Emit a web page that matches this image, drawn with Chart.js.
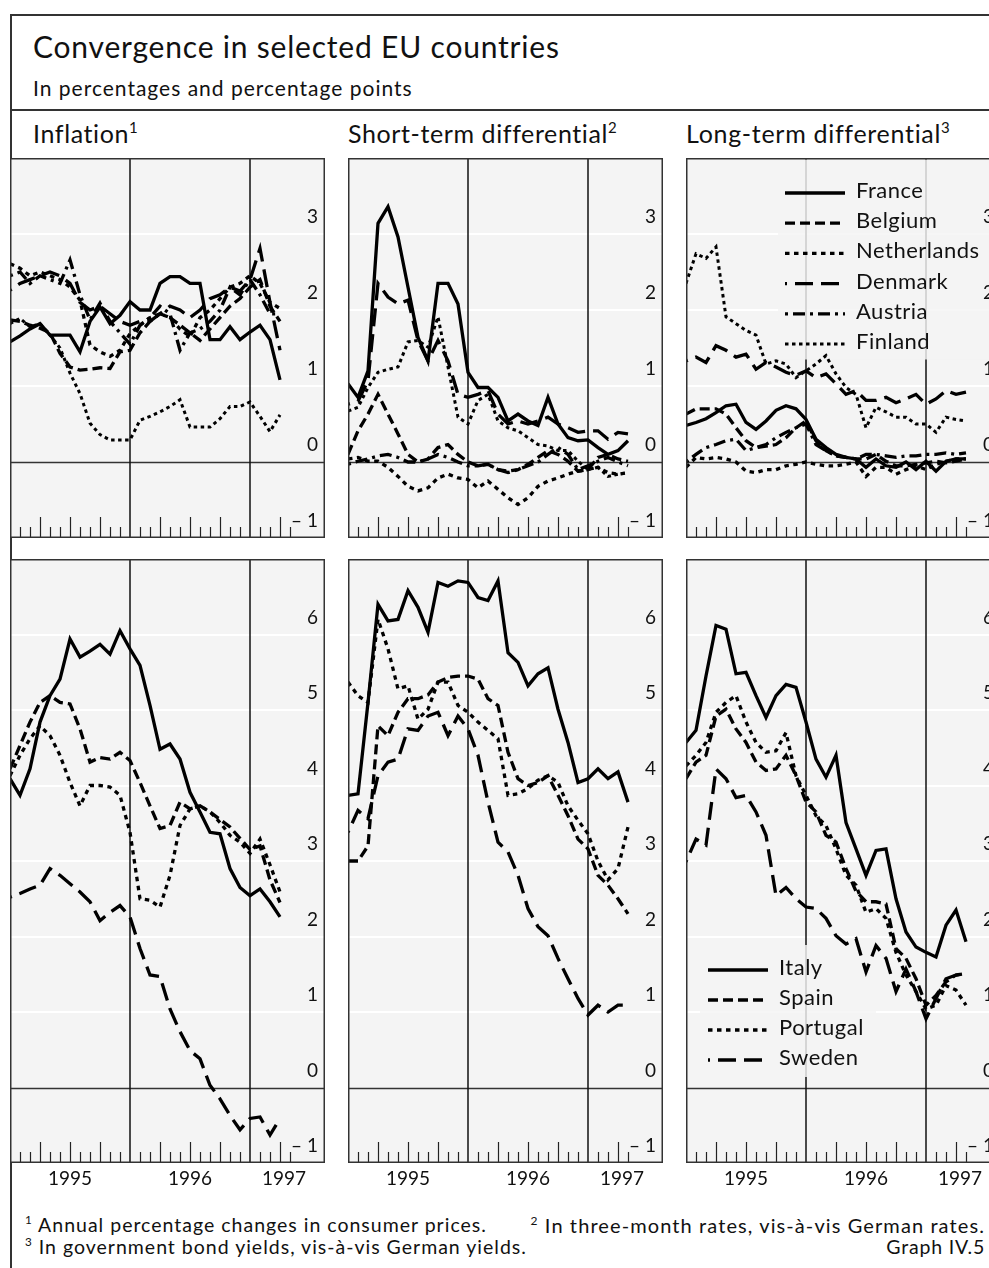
<!DOCTYPE html>
<html><head><meta charset="utf-8">
<script src="https://cdn.jsdelivr.net/npm/chart.js@4/dist/chart.umd.min.js"></script>
<style>
html,body{margin:0;padding:0;overflow:hidden;}
body{width:989px;height:1268px;position:relative;background:#fff;font-family:Lato,"Open Sans",sans-serif;color:#111;}
.t{position:absolute;white-space:nowrap;line-height:1;}
.t sup{font-size:0.6em;vertical-align:0.65em;line-height:0;}
canvas{position:absolute;}
.ln{position:absolute;background:#333;}
</style></head><body>
<div class="ln" style="left:10px;top:14px;width:979px;height:1.5px"></div>
<div class="ln" style="left:10px;top:14px;width:1.5px;height:1254px"></div>
<div class="ln" style="left:10px;top:109px;width:979px;height:1.5px"></div>
<div class="t" style="left:33px;top:31px;font-size:30px;letter-spacing:0.8px">Convergence in selected EU countries</div>
<div class="t" style="left:33px;top:77px;font-size:21px;letter-spacing:1px">In percentages and percentage points</div>
<div class="t" style="left:33px;top:121px;font-size:25px;letter-spacing:0.6px">Inflation<sup>1</sup></div>
<div class="t" style="left:348px;top:121px;font-size:25px;letter-spacing:0.6px">Short-term differential<sup>2</sup></div>
<div class="t" style="left:686px;top:121px;font-size:25px;letter-spacing:0.7px">Long-term differential<sup>3</sup></div>
<div class="t" style="left:25px;top:1215px;font-size:19.5px;letter-spacing:1px"><sup>1</sup> Annual percentage changes in consumer prices.</div>
<div class="t" style="right:4px;top:1215px;font-size:20px;letter-spacing:1.1px"><sup>2</sup> In three-month rates, vis-à-vis German rates.</div>
<div class="t" style="left:25px;top:1237px;font-size:19.5px;letter-spacing:1px"><sup>3</sup> In government bond yields, vis-à-vis German yields.</div>
<div class="t" style="right:4px;top:1237px;font-size:19.5px;letter-spacing:0.8px">Graph IV.5</div>

<canvas id="c1" width="315" height="380" style="left:10px;top:158px"></canvas>
<canvas id="c2" width="315" height="380" style="left:348px;top:158px"></canvas>
<canvas id="c3" width="315" height="380" style="left:686px;top:158px"></canvas>
<canvas id="c4" width="315" height="640" style="left:10px;top:559px"></canvas>
<canvas id="c5" width="315" height="640" style="left:348px;top:559px"></canvas>
<canvas id="c6" width="315" height="640" style="left:686px;top:559px"></canvas>

<script>
// ---- categories (monthly, Jan 1995 – May 1997) ----
const months = ['1995-01','1995-02','1995-03','1995-04','1995-05','1995-06','1995-07','1995-08','1995-09','1995-10','1995-11','1995-12',
  '1996-01','1996-02','1996-03','1996-04','1996-05','1996-06','1996-07','1996-08','1996-09','1996-10','1996-11','1996-12',
  '1997-01','1997-02','1997-03','1997-04','1997-05'];
const yearLabels = ['1995','1996','1997'];
const topTicks = [-1,0,1,2,3];
const bottomTicks = [-1,0,1,2,3,4,5,6];

// ---- Inflation, top group ----
const inflFrance      = [1.58,1.66,1.75,1.82,1.67,1.67,1.67,1.45,1.85,2.04,1.82,1.93,2.11,2.00,2.00,2.35,2.44,2.44,2.35,2.35,1.61,1.61,1.78,1.61,1.71,1.80,1.61,1.08];
const inflBelgium     = [1.87,1.85,1.80,1.76,1.70,1.43,1.25,1.21,1.22,1.24,1.23,1.45,1.47,1.70,1.85,1.95,1.90,1.80,1.70,1.60,1.75,1.90,2.05,2.15,2.30,2.40,2.05,1.85];
const inflNetherlands = [2.61,2.55,2.45,2.50,2.45,2.40,2.30,2.13,1.54,1.45,1.39,1.47,1.69,1.80,1.90,1.95,1.90,1.75,1.65,1.90,2.00,2.15,2.30,2.35,2.45,2.35,2.10,2.02];
const inflDenmark     = [2.26,2.35,2.40,2.45,2.50,2.45,2.35,2.10,2.00,2.05,1.95,1.85,1.80,1.85,1.85,1.95,2.05,2.00,1.90,2.00,2.15,2.20,2.30,2.25,2.40,2.81,2.10,1.47];
const inflAustria     = [2.45,2.50,2.35,2.45,2.40,2.35,2.66,2.20,1.87,2.09,1.85,1.70,1.55,1.80,1.90,2.05,1.95,1.47,1.70,1.75,1.85,2.00,2.30,2.20,2.40,2.20,1.95,1.95];
const inflFinland     = [1.82,1.89,1.78,1.82,1.67,1.50,1.17,0.90,0.51,0.36,0.29,0.29,0.29,0.55,0.60,0.66,0.73,0.82,0.46,0.46,0.46,0.57,0.73,0.73,0.79,0.60,0.40,0.62];
// ---- Short-term differential, top group ----
const stFrance      = [1.03,0.85,1.20,3.14,3.36,2.96,2.30,1.64,1.33,2.35,2.35,2.08,1.18,0.98,0.98,0.85,0.54,0.63,0.54,0.48,0.85,0.50,0.32,0.28,0.29,0.19,0.10,0.15,0.28];
const stBelgium     = [0.10,0.41,0.63,0.89,0.63,0.37,0.10,0.00,0.04,0.19,0.23,0.10,0.00,-0.05,-0.03,-0.10,-0.12,-0.10,-0.03,0.06,0.15,0.10,0.01,-0.12,-0.10,0.06,0.10,0.04,0.01];
const stNetherlands = [0.04,0.06,0.01,0.01,-0.07,-0.19,-0.32,-0.38,-0.34,-0.21,-0.16,-0.21,-0.23,-0.34,-0.25,-0.36,-0.47,-0.56,-0.47,-0.32,-0.25,-0.21,-0.16,-0.12,-0.10,-0.07,-0.14,-0.16,-0.14];
const stDenmark     = [0.76,0.80,1.07,2.35,2.17,2.08,2.13,1.60,1.33,1.60,1.33,0.89,0.85,0.89,0.94,0.63,0.50,0.54,0.50,0.54,0.59,0.50,0.45,0.39,0.41,0.41,0.30,0.39,0.37];
const stAustria     = [-0.03,0.01,0.04,0.08,0.10,0.06,0.00,0.00,0.04,0.10,0.06,0.00,-0.05,-0.05,-0.03,-0.10,-0.14,-0.10,-0.05,0.00,0.10,0.19,0.10,-0.10,-0.05,0.01,0.06,0.00,-0.05];
const stFinland     = [0.67,0.72,0.98,1.18,1.22,1.25,1.58,1.60,1.51,1.91,1.25,0.59,0.50,0.81,0.89,0.54,0.45,0.41,0.32,0.23,0.21,0.15,0.15,0.01,-0.10,-0.07,-0.19,-0.16,-0.14];
// ---- Long-term differential, top group ----
const ltFrance      = [0.48,0.52,0.57,0.65,0.74,0.76,0.52,0.43,0.54,0.68,0.74,0.70,0.56,0.30,0.19,0.10,0.06,0.04,-0.07,0.04,-0.05,-0.07,0.00,-0.10,0.01,-0.12,0.01,0.04,0.04];
const ltBelgium     = [0.63,0.70,0.70,0.70,0.63,0.45,0.28,0.19,0.21,0.23,0.32,0.45,0.54,0.28,0.15,0.08,0.06,0.04,0.04,0.10,0.01,-0.05,-0.05,-0.03,-0.01,0.01,-0.01,0.01,0.04];
const ltNetherlands = [-0.07,0.06,0.04,0.06,0.04,0.00,-0.12,-0.14,-0.10,-0.10,-0.05,-0.03,0.00,-0.03,-0.05,-0.05,-0.03,0.00,-0.19,-0.07,-0.07,-0.16,-0.10,-0.05,-0.10,-0.03,0.01,0.04,0.04];
const ltDenmark     = [1.33,1.38,1.31,1.53,1.47,1.38,1.42,1.22,1.31,1.25,1.18,1.14,1.20,1.11,1.16,1.03,0.89,0.94,0.81,0.81,0.85,0.78,0.83,0.89,0.76,0.83,0.94,0.89,0.92];
const ltAustria     = [0.00,0.10,0.19,0.23,0.28,0.30,0.15,0.19,0.23,0.32,0.39,0.45,0.50,0.23,0.15,0.08,0.06,0.04,0.10,0.10,0.08,0.06,0.08,0.08,0.10,0.10,0.12,0.10,0.12];
const ltFinland     = [2.35,2.74,2.68,2.83,1.91,1.82,1.73,1.67,1.29,1.33,1.29,1.11,1.20,1.29,1.40,1.16,0.98,0.89,0.45,0.72,0.66,0.59,0.59,0.50,0.50,0.39,0.59,0.56,0.54];
// ---- Inflation, bottom group ----
const inflItaly    = [4.09,3.87,4.22,4.84,5.19,5.41,5.94,5.70,5.78,5.87,5.74,6.05,5.81,5.59,5.06,4.48,4.55,4.35,3.91,3.65,3.38,3.36,2.90,2.65,2.54,2.63,2.46,2.26];
const inflSpain    = [4.22,4.53,4.84,5.10,5.19,5.10,5.08,4.75,4.31,4.37,4.35,4.44,4.33,4.04,3.73,3.43,3.47,3.78,3.69,3.73,3.65,3.55,3.45,3.30,3.15,3.20,2.75,2.45];
const inflPortugal = [4.13,4.40,4.62,4.79,4.66,4.40,4.04,3.73,4.00,4.00,3.98,3.87,3.38,2.50,2.48,2.39,2.81,3.47,3.69,3.73,3.65,3.51,3.34,3.25,3.10,3.29,2.95,2.59];
const inflSweden   = [2.52,2.57,2.63,2.68,2.90,2.81,2.70,2.59,2.46,2.21,2.32,2.41,2.26,1.84,1.49,1.47,1.04,0.74,0.49,0.38,0.03,-0.15,-0.37,-0.56,-0.41,-0.39,-0.63,-0.41];
// ---- Short-term differential, bottom group ----
const stItaly    = [3.87,3.89,5.10,6.40,6.18,6.20,6.58,6.36,6.03,6.69,6.64,6.71,6.69,6.49,6.45,6.71,5.76,5.63,5.32,5.48,5.56,5.01,4.57,4.04,4.09,4.22,4.09,4.18,3.78];
const stSpain    = [3.00,3.00,3.20,4.79,4.66,4.97,5.15,5.15,5.20,5.37,5.43,5.45,5.45,5.41,5.15,5.06,4.44,4.09,4.00,4.04,4.13,3.87,3.60,3.29,3.16,2.81,2.68,2.50,2.30];
const stPortugal = [5.37,5.19,5.10,6.20,5.81,5.28,5.32,4.88,5.01,5.37,5.37,5.06,4.97,4.84,4.73,4.62,3.87,3.89,3.96,4.07,4.13,4.04,3.73,3.54,3.36,3.00,2.75,2.90,3.45];
const stSweden   = [3.38,3.67,3.56,4.13,4.31,4.35,4.75,4.73,4.92,4.97,4.66,4.92,4.75,4.40,3.78,3.25,3.12,2.81,2.37,2.13,2.01,1.71,1.44,1.18,0.96,1.09,1.00,1.09,1.09];
// ---- Long-term differential, bottom group ----
const ltItaly    = [4.57,4.73,5.45,6.12,6.07,5.48,5.50,5.19,4.90,5.19,5.34,5.30,4.84,4.35,4.11,4.40,3.51,3.16,2.81,3.14,3.16,2.50,2.06,1.86,1.79,1.73,2.15,2.35,1.93];
const ltSpain    = [4.09,4.31,4.40,4.92,5.01,4.75,4.57,4.31,4.20,4.22,4.40,4.13,3.78,3.65,3.34,3.25,2.90,2.60,2.46,2.46,2.43,1.84,1.71,1.44,1.09,1.22,1.40,1.49,1.51];
const ltPortugal = [4.26,4.40,4.57,4.97,5.10,5.19,4.84,4.57,4.44,4.46,4.70,4.13,3.87,3.60,3.47,3.16,2.81,2.68,2.32,2.37,2.24,1.79,1.49,1.27,1.04,1.09,1.35,1.29,1.09];
const ltSweden   = [2.99,3.29,3.21,4.22,4.09,3.84,3.87,3.65,3.34,2.54,2.65,2.50,2.39,2.37,2.24,2.01,1.90,1.97,1.53,1.88,1.71,1.27,1.57,1.27,0.91,1.18,1.44,1.49,1.51];

// ---- line styles ----
const STY = {
  solid:   {dash:[], off:0, w:3.3},
  dash:    {dash:[10,5], off:0, w:3.3},
  dot:     {dash:[4.5,4.5], off:0, w:3.3},
  long:    {dash:[18,8], off:16, w:3.3},
  dashdot: {dash:[3,5,12,5], off:0, w:3.3},
  fine:    {dash:[3.5,3.5], off:0, w:3}
};
const FONT = 'Lato, "Open Sans", sans-serif';

function ds(label, arr, s) {
  const st = STY[s];
  return {label, data: arr.map((v,i)=>({x:i, y:v})), borderColor:'#000', borderWidth:st.w,
    borderDash:st.dash, borderDashOffset:st.off, pointRadius:0, tension:0, fill:false,
    borderCapStyle:'butt', borderJoinStyle:'miter'};
}

function hline(ctx,x1,y1,x2,y2){ctx.beginPath();ctx.moveTo(x1,y1);ctx.lineTo(x2,y2);ctx.stroke();}

const deco = {
  id:'deco',
  beforeDatasetsDraw(chart, args, o) {
    const {ctx, chartArea:a, scales:{x,y}} = chart;
    ctx.save();
    ctx.fillStyle = '#f4f4f4';
    ctx.fillRect(a.left, a.top, a.width, a.height);
    ctx.strokeStyle = '#ffffff'; ctx.lineWidth = 2;
    o.ticks.forEach(v => { if (v > 0) { const py = Math.round(y.getPixelForValue(v)); hline(ctx,a.left,py,a.right,py);} });
    ctx.strokeStyle = '#333'; ctx.lineWidth = 1.4;
    const zy = Math.round(y.getPixelForValue(0)) + 0.5;
    hline(ctx, a.left, zy, a.right, zy);
    ctx.strokeStyle = '#111'; ctx.lineWidth = 1.5;
    [12,24].forEach(m => { const px = Math.round(x.getPixelForValue(m)); hline(ctx,px,a.top,px,a.bottom); });
    ctx.strokeStyle = '#222'; ctx.lineWidth = 1.2;
    for (let m = 1; m < months.length; m++) {
      if (m % 12 === 0) continue;
      const px = Math.round(x.getPixelForValue(m)) + 0.5;
      const len = (m % 3 === 0) ? 21 : 11;
      hline(ctx, px, a.bottom, px, a.bottom - len);
    }
    if (o.legend) {
      ctx.fillStyle = 'rgba(244,244,244,0.82)';
      const L = o.legend;
      ctx.fillRect(L.box[0], L.box[1], L.box[2], L.box[3]);
    }
    ctx.restore();
  },
  afterDatasetsDraw(chart, args, o) {
    const {ctx, chartArea:a, scales:{x,y}} = chart;
    ctx.save();
    ctx.fillStyle = '#111';
    ctx.font = '19px ' + FONT;
    ctx.textAlign = 'right'; ctx.textBaseline = 'middle';
    o.ticks.forEach(v => {
      const txt = v < 0 ? '\u2013 ' + Math.abs(v) : String(v);
      ctx.fillText(txt, a.right - 7, y.getPixelForValue(v) - 17);
    });
    if (o.legend) {
      const L = o.legend;
      ctx.font = '22px ' + FONT;
      ctx.letterSpacing = '0.5px';
      ctx.textAlign = 'left'; ctx.textBaseline = 'middle';
      chart.data.datasets.forEach((d, i) => {
        const yy = L.y0 + i * L.dy;
        ctx.strokeStyle = '#000'; ctx.lineWidth = d.borderWidth;
        ctx.setLineDash(d.borderDash); ctx.lineDashOffset = d.borderDashOffset || 0;
        hline(ctx, L.x0, yy + 2, L.x0 + 60, yy + 2);
        ctx.setLineDash([]);
        ctx.fillStyle = '#111';
        ctx.fillText(d.label, L.x0 + 71, yy);
      });
      ctx.letterSpacing = '0px';
    }
    if (o.years) {
      ctx.fillStyle = '#111';
      ctx.font = '19px ' + FONT;
      ctx.textAlign = 'center'; ctx.textBaseline = 'middle';
      [6, 18, 27.4].forEach((m, i) => ctx.fillText(yearLabels[i], x.getPixelForValue(m), a.bottom + 16));
    }
    ctx.strokeStyle = '#333'; ctx.lineWidth = 1.5;
    ctx.strokeRect(a.left + 0.75, a.top + 0.75, a.width - 1.5, a.height - 1.5);
    ctx.restore();
  }
};

function make(id, datasets, ymin, ymax, ticks, bottomPad, years, legend) {
  return new Chart(document.getElementById(id), {
    type:'line',
    data:{datasets},
    options:{
      responsive:false, animation:false, devicePixelRatio:1,
      layout:{padding:{left:0,right:0,top:0,bottom:bottomPad}},
      scales:{
        x:{type:'linear', min:0, max:31.5, display:false},
        y:{type:'linear', min:ymin, max:ymax, display:false}
      },
      plugins:{legend:{display:false}, tooltip:{enabled:false},
        deco:{ticks, years, legend}},
      elements:{point:{radius:0}}
    },
    plugins:[deco]
  });
}

make('c1', [ds('France',inflFrance,'solid'), ds('Belgium',inflBelgium,'dash'), ds('Netherlands',inflNetherlands,'dot'),
  ds('Denmark',inflDenmark,'long'), ds('Austria',inflAustria,'dashdot'), ds('Finland',inflFinland,'fine')], -1, 4, topTicks, 0, false, null);
make('c2', [ds('France',stFrance,'solid'), ds('Belgium',stBelgium,'dash'), ds('Netherlands',stNetherlands,'dot'),
  ds('Denmark',stDenmark,'long'), ds('Austria',stAustria,'dashdot'), ds('Finland',stFinland,'fine')], -1, 4, topTicks, 0, false, null);
make('c3', [ds('France',ltFrance,'solid'), ds('Belgium',ltBelgium,'dash'), ds('Netherlands',ltNetherlands,'dot'),
  ds('Denmark',ltDenmark,'long'), ds('Austria',ltAustria,'dashdot'), ds('Finland',ltFinland,'fine')], -1, 4, topTicks, 0, false,
  {x0:99, y0:33, dy:30.2, box:[92, 1.5, 223, 200]});
make('c4', [ds('Italy',inflItaly,'solid'), ds('Spain',inflSpain,'dash'), ds('Portugal',inflPortugal,'dot'),
  ds('Sweden',inflSweden,'long')], -1, 7, bottomTicks, 36, true, null);
make('c5', [ds('Italy',stItaly,'solid'), ds('Spain',stSpain,'dash'), ds('Portugal',stPortugal,'dot'),
  ds('Sweden',stSweden,'long')], -1, 7, bottomTicks, 36, true, null);
make('c6', [ds('Italy',ltItaly,'solid'), ds('Spain',ltSpain,'dash'), ds('Portugal',ltPortugal,'dot'),
  ds('Sweden',ltSweden,'long')], -1, 7, bottomTicks, 36, true,
  {x0:22, y0:409, dy:30, box:[14, 386, 176, 132]});
</script>
</body></html>
